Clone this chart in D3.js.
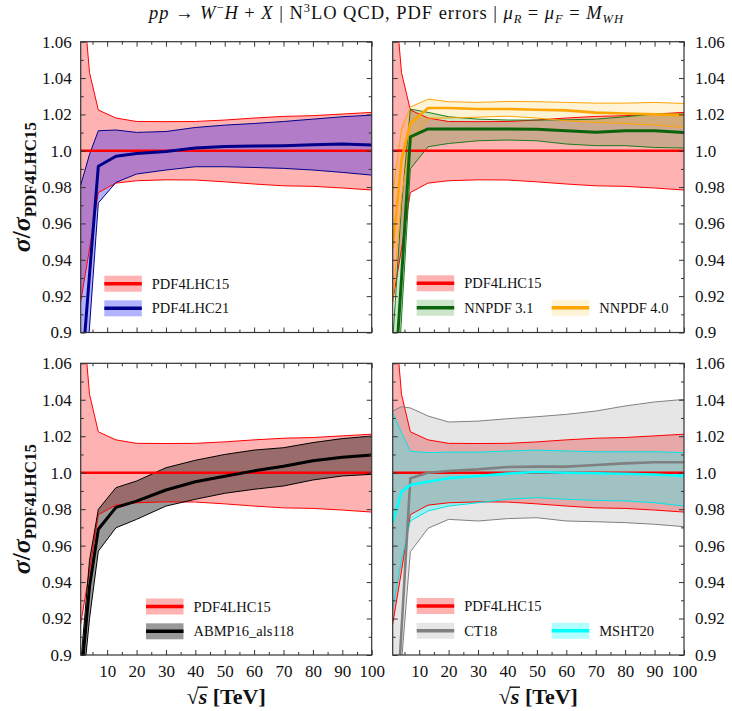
<!DOCTYPE html>
<html><head><meta charset="utf-8">
<script src="https://cdn.jsdelivr.net/npm/d3@7"></script>
<style>
body{margin:0;background:#fff;}
svg{display:block;}
text{font-family:"Liberation Serif","DejaVu Serif",serif;fill:#111;}
</style></head>
<body>
<svg id="chart" width="732" height="711"></svg>
<script>
// ---------- DATA ----------
const sqrtS = [1, 4, 7, 13, 20, 30, 40, 50, 60, 70, 80, 90, 100];

const pdf4lhc15Central = [1, 1, 1, 1, 1, 1, 1, 1, 1, 1, 1, 1, 1];
const pdf4lhc15Up   = [1.100, 1.043, 1.0224, 1.018, 1.0161, 1.016, 1.0161, 1.0169, 1.018, 1.0189, 1.0193, 1.0202, 1.0211];
const pdf4lhc15Down = [0.917, 0.946, 0.977, 0.9822, 0.9835, 0.984, 0.9839, 0.9829, 0.9817, 0.9807, 0.9804, 0.9795, 0.9784];

const pdf4lhc21Central = [0.87, 0.932, 0.9915, 0.997, 0.9985, 0.9996, 1.0015, 1.0024, 1.0026, 1.0028, 1.0033, 1.0037, 1.0031];
const pdf4lhc21Up   = [0.981, 0.998, 1.011, 1.0114, 1.0101, 1.0106, 1.0128, 1.0141, 1.015, 1.0161, 1.0174, 1.0187, 1.0196];
const pdf4lhc21Down = [0.83, 0.903, 0.9713, 0.9826, 0.9872, 0.9894, 0.9912, 0.9912, 0.9908, 0.9903, 0.9894, 0.9881, 0.9866];

const nnpdf31Central = [0.855, 0.93, 1.0077, 1.012, 1.012, 1.012, 1.012, 1.0118, 1.011, 1.0102, 1.011, 1.011, 1.0101];
const nnpdf31Up   = [0.895, 0.97, 1.0229, 1.0211, 1.0187, 1.0174, 1.0169, 1.0169, 1.017, 1.0174, 1.0187, 1.0202, 1.0202];
const nnpdf31Down = [0.826, 0.908, 0.99, 1.0022, 1.004, 1.0055, 1.0059, 1.0055, 1.0037, 1.0028, 1.0028, 1.0018, 1.0015];

const nnpdf40Central = [0.946, 0.995, 1.015, 1.0235, 1.0235, 1.023, 1.023, 1.0226, 1.0222, 1.021, 1.0205, 1.02, 1.0196];
const nnpdf40Up   = [0.976, 1.012, 1.024, 1.0284, 1.027, 1.0266, 1.0271, 1.027, 1.0266, 1.0262, 1.0262, 1.0266, 1.026];
const nnpdf40Down = [0.916, 0.975, 1.005, 1.018, 1.018, 1.0185, 1.019, 1.018, 1.0165, 1.0156, 1.015, 1.0141, 1.0128];

const abmpCentral = [0.885, 0.9375, 0.969, 0.981, 0.9844, 0.9905, 0.995, 0.998, 1.001, 1.0035, 1.0066, 1.0085, 1.0097];
const abmpUp   = [0.895, 0.952, 0.9799, 0.9918, 0.9954, 1.0027, 1.0068, 1.01, 1.0124, 1.0137, 1.0165, 1.0187, 1.0201];
const abmpDown = [0.87, 0.92, 0.957, 0.9698, 0.9744, 0.9817, 0.9854, 0.9887, 0.9909, 0.9927, 0.996, 0.9982, 0.9991];

const ct18Central = [0.83, 0.914, 0.9969, 1.0, 1.0009, 1.0018, 1.0031, 1.0033, 1.0033, 1.0042, 1.0051, 1.0057, 1.0057];
const ct18Up   = [1.0338, 1.0362, 1.0355, 1.0311, 1.0278, 1.0283, 1.0296, 1.0307, 1.032, 1.0338, 1.0366, 1.0388, 1.0402];
const ct18Down = [0.842, 0.896, 0.9566, 0.9695, 0.9744, 0.9735, 0.9748, 0.9753, 0.9735, 0.9731, 0.9726, 0.9717, 0.9704];

const mshtCentral = [0.9726, 0.9896, 0.9932, 0.995, 0.997, 0.9982, 0.9995, 1.0004, 1.0, 0.9997, 0.9994, 0.999, 0.9982];
const mshtUp   = [1.0329, 1.022, 1.0118, 1.011, 1.0113, 1.0113, 1.0119, 1.0124, 1.0119, 1.0115, 1.0115, 1.0115, 1.011];
const mshtDown = [0.925, 0.952, 0.9735, 0.979, 0.9817, 0.9835, 0.9854, 0.9863, 0.9854, 0.9848, 0.9845, 0.9835, 0.9817];

const xTickValues = [10, 20, 30, 40, 50, 60, 70, 80, 90, 100];
const yTickValues = [0.9, 0.92, 0.94, 0.96, 0.98, 1.0, 1.02, 1.04, 1.06];
const yTickLabels = ["0.9", "0.92", "0.94", "0.96", "0.98", "1.0", "1.02", "1.04", "1.06"];

// ---------- STYLES ----------
const sets = {
  pdf15: {name:"PDF4LHC15", c:pdf4lhc15Central, u:pdf4lhc15Up, d:pdf4lhc15Down, fill:"rgba(255,0,0,0.3)", stroke:"#ff0000", edge:"#ff0000", lw:2.4},
  pdf21: {name:"PDF4LHC21", c:pdf4lhc21Central, u:pdf4lhc21Up, d:pdf4lhc21Down, fill:"rgba(0,0,255,0.3)", stroke:"#00008b", edge:"#00008b", lw:3},
  nn31:  {name:"NNPDF 3.1", c:nnpdf31Central, u:nnpdf31Up, d:nnpdf31Down, fill:"rgba(0,128,0,0.2)", stroke:"#0b640b", edge:"#1e7a1e", lw:3},
  nn40:  {name:"NNPDF 4.0", c:nnpdf40Central, u:nnpdf40Up, d:nnpdf40Down, fill:"rgba(255,180,0,0.16)", stroke:"#ffa500", edge:"#ffa500", lw:2.6},
  abmp:  {name:"ABMP16_als118", c:abmpCentral, u:abmpUp, d:abmpDown, fill:"rgba(0,0,0,0.4)", stroke:"#000000", edge:"#000000", lw:3},
  ct18:  {name:"CT18", c:ct18Central, u:ct18Up, d:ct18Down, fill:"rgba(128,128,128,0.2)", stroke:"#808080", edge:"#808080", lw:2.6},
  msht:  {name:"MSHT20", c:mshtCentral, u:mshtUp, d:mshtDown, fill:"rgba(0,255,255,0.3)", stroke:"#00ffff", edge:"#00e5e5", lw:2.6}
};

const panels = [
  {x0:80.7, x1:371.7, y0:41.7, y1:332.5, series:["pdf15","pdf21"], side:"left", xlabels:false,
   legend:[{k:"pdf15",x:104.3,y:275.7},{k:"pdf21",x:104.3,y:300.3}]},
  {x0:392.7, x1:684, y0:41.7, y1:332.5, series:["pdf15","nn31","nn40"], side:"right", xlabels:false,
   legend:[{k:"pdf15",x:416.7,y:275.3},{k:"nn31",x:416.7,y:299.8},{k:"nn40",x:551.7,y:299.8}]},
  {x0:80.7, x1:371.7, y0:363.3, y1:655, series:["pdf15","abmp"], side:"left", xlabels:true,
   legend:[{k:"pdf15",x:146,y:598.5},{k:"abmp",x:146,y:623.3}]},
  {x0:392.7, x1:684, y0:363.3, y1:655, series:["pdf15","ct18","msht"], side:"right", xlabels:true,
   legend:[{k:"pdf15",x:416.7,y:598},{k:"ct18",x:416.7,y:622.8},{k:"msht",x:551.7,y:622.8}]}
];

const svg = d3.select("#chart");
const defs = svg.append("defs");

panels.forEach((p, pi) => {
  const x = d3.scaleLinear().domain([1, 100]).range([p.x0, p.x1]);
  const y = d3.scaleLinear().domain([0.9, 1.06]).range([p.y1, p.y0]);
  defs.append("clipPath").attr("id","clip"+pi).append("rect")
    .attr("x",p.x0).attr("y",p.y0).attr("width",p.x1-p.x0).attr("height",p.y1-p.y0);
  const g = svg.append("g").attr("clip-path","url(#clip"+pi+")");
  const area = (s) => d3.area().x((d,i)=>x(sqrtS[i])).y0((d,i)=>y(s.d[i])).y1((d,i)=>y(s.u[i]))(s.c);
  const line = (arr) => d3.line().x((d,i)=>x(sqrtS[i])).y(d=>y(d))(arr);
  p.series.forEach(k => { const s = sets[k];
    g.append("path").attr("d", area(s)).attr("fill", s.fill).attr("stroke","none"); });
  p.series.forEach(k => { const s = sets[k];
    [s.u, s.d].forEach(arr => g.append("path").attr("d", line(arr)).attr("fill","none")
      .attr("stroke", s.edge).attr("stroke-width", 1)); });
  p.series.forEach(k => { const s = sets[k];
    g.append("path").attr("d", line(s.c)).attr("fill","none").attr("stroke", s.stroke)
      .attr("stroke-width", s.lw).attr("stroke-linejoin","round"); });

  // axes
  const minorX = d3.range(5, 100, 10);
  const minorY = d3.range(0.91, 1.06, 0.02);
  const ax = (gen) => svg.append("g").call(gen).call(s => s.select(".domain").remove())
      .call(s => s.selectAll("line").attr("stroke","#333").attr("stroke-width",1));
  const bottom = ax(d3.axisBottom(x).tickValues(xTickValues).tickSize(-5).tickPadding(10)
      .tickFormat(p.xlabels ? d3.format("d") : () => ""))
      .attr("transform",`translate(0,${p.y1})`);
  bottom.selectAll("text").attr("font-size", 17).attr("fill","#111");
  ax(d3.axisBottom(x).tickValues(minorX).tickSize(-3).tickFormat(()=>""))
      .attr("transform",`translate(0,${p.y1})`);
  ax(d3.axisTop(x).tickValues(xTickValues).tickSize(-5).tickFormat(()=>""))
      .attr("transform",`translate(0,${p.y0})`);
  ax(d3.axisTop(x).tickValues(minorX).tickSize(-3).tickFormat(()=>""))
      .attr("transform",`translate(0,${p.y0})`);
  const labelled = p.side === "left";
  const fmt = (v) => yTickLabels[yTickValues.findIndex(t => Math.abs(t - v) < 1e-6)];
  const lAx = ax(d3.axisLeft(y).tickValues(yTickValues).tickSize(-5).tickPadding(9)
      .tickFormat(labelled ? fmt : () => "")).attr("transform",`translate(${p.x0},0)`);
  ax(d3.axisLeft(y).tickValues(minorY).tickSize(-3).tickFormat(()=>"")).attr("transform",`translate(${p.x0},0)`);
  const rAx = ax(d3.axisRight(y).tickValues(yTickValues).tickSize(-5).tickPadding(11)
      .tickFormat(!labelled ? fmt : () => "")).attr("transform",`translate(${p.x1},0)`);
  ax(d3.axisRight(y).tickValues(minorY).tickSize(-3).tickFormat(()=>"")).attr("transform",`translate(${p.x1},0)`);
  [lAx, rAx].forEach(a => a.selectAll("text").attr("font-size", 17).attr("fill","#111"));

  svg.append("rect").attr("x",p.x0).attr("y",p.y0).attr("width",p.x1-p.x0).attr("height",p.y1-p.y0)
    .attr("fill","none").attr("stroke","#333").attr("stroke-width",1.2);

  // legend
  p.legend.forEach(L => {
    const s = sets[L.k];
    const lg = svg.append("g");
    lg.append("rect").attr("x",L.x).attr("y",L.y).attr("width",37.5).attr("height",16).attr("fill",s.fill);
    lg.append("line").attr("x1",L.x).attr("x2",L.x+37.5).attr("y1",L.y+8).attr("y2",L.y+8)
      .attr("stroke",s.stroke).attr("stroke-width",3.5);
    lg.append("text").attr("x",L.x+47.5).attr("y",L.y+13).attr("font-size",14.5).text(s.name);
  });

  // x label
  if (p.xlabels) {
    const cx = (p.x0 + p.x1) / 2;
    const t = svg.append("text").attr("x", cx).attr("y", 704).attr("text-anchor","middle")
      .attr("font-size", 22).attr("font-weight","bold");
    t.append("tspan").text("\u221A");
    t.append("tspan").attr("font-style","italic").text("s");
    t.append("tspan").text(" [TeV]");
    const n = t.node();
    try {
      const r0 = n.getExtentOfChar(0), r1 = n.getExtentOfChar(1);
      const yTop = r0.y + 3.2;
      svg.append("line").attr("x1", r0.x + r0.width - 1.2).attr("x2", r1.x + r1.width + 0.5)
        .attr("y1", yTop).attr("y2", yTop).attr("stroke","#111").attr("stroke-width",1.4);
    } catch(e) {}
  }
  // y label
  if (p.side === "left") {
    const cy = (p.y0 + p.y1) / 2;
    const t = svg.append("text").attr("transform",`translate(30,${cy}) rotate(-90)`)
      .attr("text-anchor","middle").attr("font-weight","bold");
    t.append("tspan").attr("font-style","italic").attr("font-size",26).text("\u03C3");
    t.append("tspan").attr("font-size",25).text("/");
    t.append("tspan").attr("font-style","italic").attr("font-size",26).text("\u03C3");
    t.append("tspan").attr("font-size",17).attr("dy",6).text("PDF4LHC15");
  }
});

// title
const title = svg.append("text").attr("x", 386).attr("y", 19).attr("text-anchor","middle").attr("font-size",18.5);
const parts = [
  ["pp","i"],[" \u2192 ",""],["W","i"],["\u2212","sup"],["H","i"],[" + ",""],["X","i"],
  [" | N",""],["3","sup"],["LO QCD, PDF errors | ",""],["\u03BC","i"],["R","subi"],[" = ",""],
  ["\u03BC","i"],["F","subi"],[" = ",""],["M","i"],["WH","subi"]
];
let shift = 0;
parts.forEach(([txt, st]) => {
  const ts = title.append("tspan").text(txt);
  let target = 0;
  if (st === "sup") { target = -7; ts.attr("font-size", 12.5); }
  if (st === "subi") { target = 4; ts.attr("font-size", 12.5).attr("font-style","italic"); }
  if (st === "i") ts.attr("font-style","italic");
  ts.attr("dy", target - shift);
  shift = target;
});
title.attr("textLength", 474).attr("lengthAdjust", "spacing");
</script>
</body></html>
